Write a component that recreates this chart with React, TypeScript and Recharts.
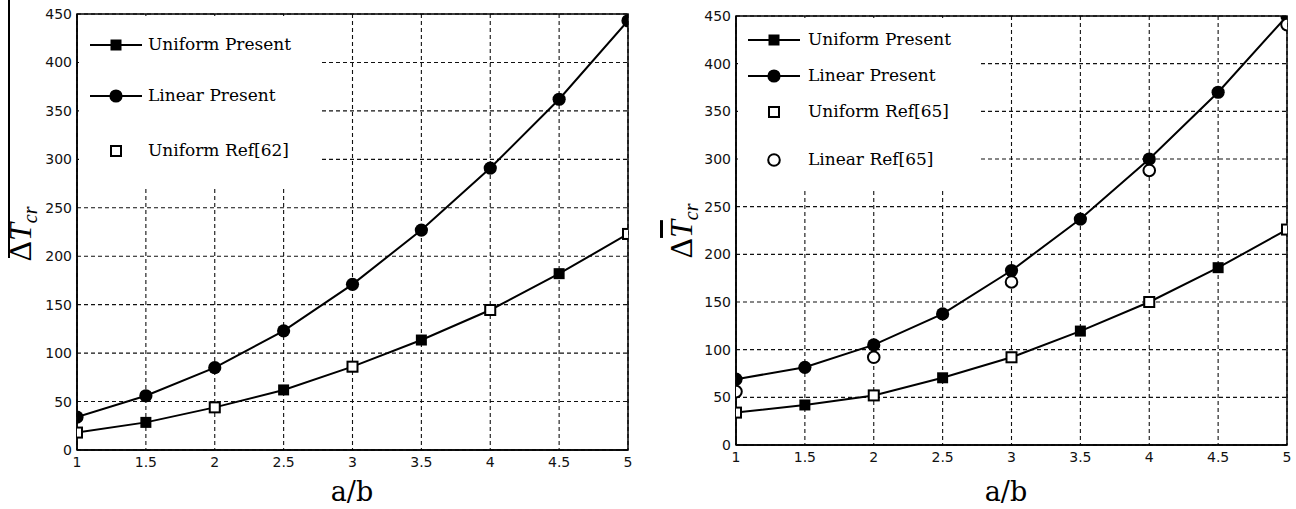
import React from 'react';
import { LineChart, Line, XAxis, YAxis, CartesianGrid, ReferenceArea, Legend } from 'recharts';

// ---------- data ----------
const aRatio = [1, 1.5, 2, 2.5, 3, 3.5, 4, 4.5, 5];
const refRatio = [1, 2, 3, 4, 5];
const xTicks = [1, 1.5, 2, 2.5, 3, 3.5, 4, 4.5, 5];
const yTicks = [0, 50, 100, 150, 200, 250, 300, 350, 400, 450];

// left panel
const leftUniformPresent = [18, 28.5, 44, 62, 86, 113.5, 144.5, 182, 223];
const leftLinearPresent = [34, 56, 85, 123, 171, 227, 291, 362, 443];
const leftUniformRef62 = [18, 44, 86, 144.5, 223];

// right panel
const rightUniformPresent = [34, 42, 52, 70.5, 92, 119.5, 150, 186, 226];
const rightLinearPresent = [69, 81.5, 105, 137.5, 183, 237, 300, 370, 450];
const rightUniformRef65 = [34, 52, 92, 150, 226];
const rightLinearRef65 = [56, 92, 171, 288, 441];

const toPts = (xs: number[], ys: number[]) => xs.map((x, i) => ({ x, y: ys[i] }));

// ---------- markers ----------
const FilledSquare = (p: any) => {
  const { cx, cy, index } = p;
  if (cx == null || cy == null) return <g key={`fs-${index}`} />;
  return <rect key={`fs-${index}`} x={cx - 5.5} y={cy - 5.5} width={11} height={11} fill="#000" />;
};
const FilledCircle = (p: any) => {
  const { cx, cy, index } = p;
  if (cx == null || cy == null) return <g key={`fc-${index}`} />;
  return <circle key={`fc-${index}`} cx={cx} cy={cy} r={6.6} fill="#000" />;
};
const HollowSquare = (p: any) => {
  const { cx, cy, index } = p;
  if (cx == null || cy == null) return <g key={`hs-${index}`} />;
  return <rect key={`hs-${index}`} x={cx - 5} y={cy - 5} width={10} height={10} fill="#fff" stroke="#000" strokeWidth={2} />;
};
const HollowCircle = (p: any) => {
  const { cx, cy, index } = p;
  if (cx == null || cy == null) return <g key={`hc-${index}`} />;
  return <circle key={`hc-${index}`} cx={cx} cy={cy} r={5.8} fill="#fff" stroke="#000" strokeWidth={2} />;
};

type LegendItem = { label: string; kind: 'fs' | 'fc' | 'hs' | 'hc'; line: boolean; top: number };

const Symbol = ({ kind, line }: { kind: string; line: boolean }) => (
  <svg width={56} height={16} style={{ position: 'absolute', left: 0, top: -8 }}>
    {line && <line x1={1} y1={8} x2={53} y2={8} stroke="#000" strokeWidth={2.2} />}
    {kind === 'fs' && <rect x={21.5} y={2.5} width={11} height={11} fill="#000" />}
    {kind === 'fc' && <circle cx={27} cy={8} r={6.6} fill="#000" />}
    {kind === 'hs' && <rect x={22} y={3} width={10} height={10} fill="#fff" stroke="#000" strokeWidth={2} />}
    {kind === 'hc' && <circle cx={27} cy={8} r={5.8} fill="#fff" stroke="#000" strokeWidth={2} />}
  </svg>
);

const makeLegend = (items: LegendItem[], symLeft: number, textLeft: number) => () => (
  <div style={{ position: 'relative', width: '100%', height: '100%' }}>
    {items.map((it) => (
      <div key={it.label} style={{ position: 'absolute', top: it.top, left: 0 }}>
        <div style={{ position: 'absolute', left: symLeft, top: 0 }}>
          <Symbol kind={it.kind} line={it.line} />
        </div>
        <span
          style={{
            position: 'absolute',
            left: textLeft,
            top: -11,
            whiteSpace: 'nowrap',
            fontFamily: '"DejaVu Serif", serif',
            fontSize: 17,
            color: '#000',
            lineHeight: '20px',
          }}
        >
          {it.label}
        </span>
      </div>
    ))}
  </div>
);

const leftLegendItems: LegendItem[] = [
  { label: 'Uniform Present', kind: 'fs', line: true, top: 29 },
  { label: 'Linear Present', kind: 'fc', line: true, top: 80 },
  { label: 'Uniform Ref[62]', kind: 'hs', line: false, top: 135 },
];
const rightLegendItems: LegendItem[] = [
  { label: 'Uniform Present', kind: 'fs', line: true, top: 22 },
  { label: 'Linear Present', kind: 'fc', line: true, top: 58 },
  { label: 'Uniform Ref[65]', kind: 'hs', line: false, top: 94 },
  { label: 'Linear Ref[65]', kind: 'hc', line: false, top: 142 },
];

const tickStyle = { fontFamily: '"DejaVu Sans", sans-serif', fontSize: 14, fill: '#111' };

const YLabel = ({ left, top, longBar }: { left: number; top: number; longBar: boolean }) => (
  <div
    style={{
      position: 'absolute',
      left,
      top,
      transform: 'translate(-50%, -50%) rotate(-90deg)',
      whiteSpace: 'nowrap',
      fontFamily: '"Liberation Serif", serif',
      fontSize: 32,
      lineHeight: '36px',
      color: '#000',
    }}
  >
    <span>Δ</span>
    <span style={{ fontStyle: 'italic', textDecoration: longBar ? 'none' : 'overline' }}>T</span>
    <span style={{ fontStyle: 'italic', fontSize: 20, position: 'relative', top: 6 }}>cr</span>
  </div>
);

const XLabel = ({ left, top }: { left: number; top: number }) => (
  <div
    style={{
      position: 'absolute',
      left,
      top,
      transform: 'translate(-50%, -50%)',
      whiteSpace: 'nowrap',
      fontFamily: '"DejaVu Serif", serif',
      fontSize: 27,
      color: '#000',
    }}
  >
    a/b
  </div>
);

const Panel = ({
  width,
  margin,
  uniform,
  linear,
  uniformRef,
  linearRef,
  legendItems,
  legendBox,
  legendSym,
  legendText,
}: any) => (
  <LineChart width={width} height={509} margin={margin}>
    <CartesianGrid stroke="#111" strokeWidth={1.1} strokeDasharray="4 3" />
    <XAxis
      type="number"
      dataKey="x"
      domain={[1, 5]}
      ticks={xTicks}
      allowDataOverflow
      tickLine={false}
      axisLine={{ stroke: '#000', strokeWidth: 1.5 }}
      tick={tickStyle}
      tickSize={5}
      height={30}
      interval={0}
    />
    <YAxis
      type="number"
      domain={[0, 450]}
      ticks={yTicks}
      allowDataOverflow
      tickLine={false}
      axisLine={{ stroke: '#000', strokeWidth: 1.5 }}
      tick={tickStyle}
      tickSize={3}
      width={40}
      interval={0}
    />
    <Legend
      layout="horizontal"
      verticalAlign="middle"
      align="center"
      content={makeLegend(legendItems, legendSym, legendText)}
      wrapperStyle={{ position: 'absolute', background: '#fff', ...legendBox }}
    />
    <Line data={toPts(aRatio, uniform)} dataKey="y" stroke="#000" strokeWidth={2} dot={FilledSquare} isAnimationActive={false} legendType="none" />
    <Line data={toPts(aRatio, linear)} dataKey="y" stroke="#000" strokeWidth={2} dot={FilledCircle} isAnimationActive={false} legendType="none" />
    {uniformRef && (
      <Line data={toPts(refRatio, uniformRef)} dataKey="y" stroke="none" strokeWidth={0} dot={HollowSquare} isAnimationActive={false} legendType="none" />
    )}
    {linearRef && (
      <Line data={toPts(refRatio, linearRef)} dataKey="y" stroke="none" strokeWidth={0} dot={HollowCircle} isAnimationActive={false} legendType="none" />
    )}
    <ReferenceArea x1={1} x2={5} y1={0} y2={450} fill="none" stroke="#000" strokeWidth={1.5} ifOverflow="visible" />
  </LineChart>
);

export default function App() {
  return (
    <div style={{ position: 'absolute', left: 0, top: 0, width: 1296, height: 509, background: '#fff', overflow: 'hidden' }}>
      <div style={{ position: 'absolute', left: 0, top: 0 }}>
        <Panel
          width={650}
          margin={{ top: 14, right: 22, bottom: 29, left: 37 }}
          uniform={leftUniformPresent}
          linear={leftLinearPresent}
          uniformRef={leftUniformRef62}
          linearRef={null}
          legendItems={leftLegendItems}
          legendBox={{ left: 79, top: 16, width: 240, height: 170 }}
          legendSym={10}
          legendText={69}
        />
      </div>
      <div style={{ position: 'absolute', left: 660, top: 0 }}>
        <Panel
          width={636}
          margin={{ top: 16, right: 9, bottom: 34, left: 36 }}
          uniform={rightUniformPresent}
          linear={rightLinearPresent}
          uniformRef={rightUniformRef65}
          linearRef={rightLinearRef65}
          legendItems={rightLegendItems}
          legendBox={{ left: 78, top: 18, width: 240, height: 172 }}
          legendSym={9}
          legendText={70}
        />
      </div>
      <div style={{ position: 'absolute', left: 8, top: 0, width: 1.5, height: 258, background: '#000' }} />
      <YLabel left={22} top={234} longBar={true} />
      <YLabel left={683} top={231} longBar={false} />
      <XLabel left={352} top={491} />
      <XLabel left={1006} top={491} />
    </div>
  );
}
